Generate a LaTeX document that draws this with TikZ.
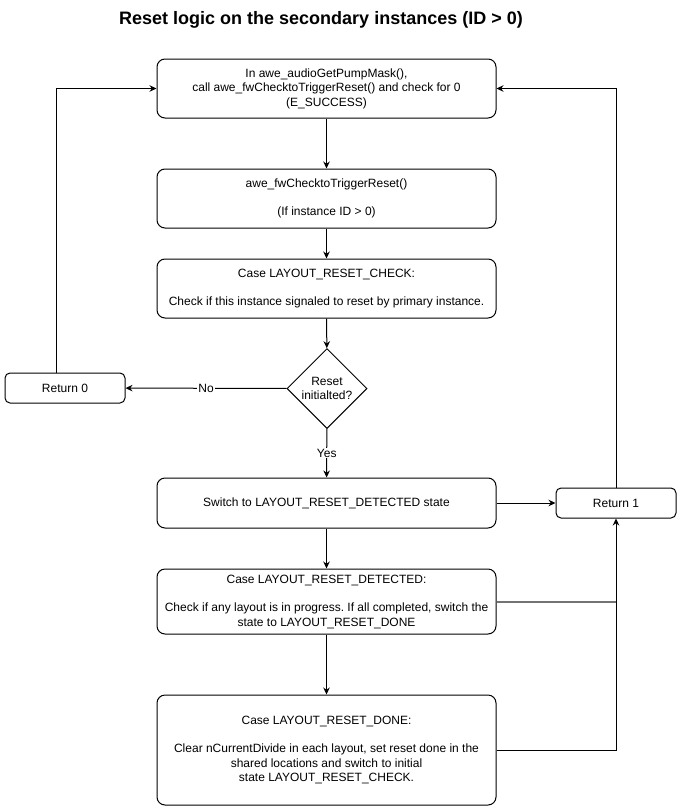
\documentclass[tikz,border=0pt]{standalone}
\usepackage{fontspec}
\setmainfont{Liberation Sans}
\frenchspacing
\usetikzlibrary{shapes.geometric,arrows.meta}
\begin{document}
\begin{tikzpicture}[x=1pt,y=-1pt,
        box/.style={draw,line width=1pt,rounded corners=8pt,align=center,minimum width=339pt,inner sep=2pt,font=\fontsize{12}{14.5}\selectfont},
        retbox/.style={draw,line width=1pt,rounded corners=5pt,minimum width=120pt,minimum height=30pt,font=\fontsize{12}{14}\selectfont},
        decision/.style={draw,line width=1pt,diamond,minimum width=80pt,minimum height=80pt,inner sep=0pt,align=center,font=\fontsize{12}{14}\selectfont},
        arr/.style={line width=1pt,-{Stealth[length=7pt,width=6.5pt]}},
        lbl/.style={fill=white,inner sep=1pt,font=\fontsize{12}{13}\selectfont}]
        \useasboundingbox (0,0) rectangle (682,811);
        \node[font=\bfseries\fontsize{18}{21}\selectfont] (title) at (321,20) {Reset logic on the secondary instances (ID > 0)};
        \node[box,minimum height=59pt] (start) at (326.5,88.5) {In awe\_audioGetPumpMask(),\\call awe\_fwChecktoTriggerReset() and check for 0\\(E\_SUCCESS)};
        \node[box,minimum height=59pt] (trig) at (326.5,198.5) {awe\_fwChecktoTriggerReset()\\[14pt](If instance ID > 0)};
        \node[box,minimum height=59pt] (chk) at (326.5,288.5) {Case LAYOUT\_RESET\_CHECK:\\[14pt]Check if this instance signaled to reset by primary instance.};
        \node[decision] (rst) at (327,388.5) {Reset\\initialted?};
        \node[retbox] (ret0) at (65,388) {Return 0};
        \node[box,minimum height=50pt] (sw) at (326.5,503) {Switch to LAYOUT\_RESET\_DETECTED state};
        \node[retbox] (ret1) at (616,503) {Return 1};
        \node[box,minimum height=65pt] (det) at (326.5,601.5) {Case LAYOUT\_RESET\_DETECTED:\\[14pt]Check if any layout is in progress. If all completed, switch the\\state to LAYOUT\_RESET\_DONE};
        \node[box,minimum height=110pt] (done) at (326.5,750) {Case LAYOUT\_RESET\_DONE:\\[14pt]Clear nCurrentDivide in each layout, set reset done in the\\shared locations and switch to initial\\ state LAYOUT\_RESET\_CHECK.};
        \draw[arr] (start) -- (trig);
        \draw[arr] (trig) -- (chk);
        \draw[arr] (chk) -- (rst);
        \draw[arr] (rst) -- node[lbl] {No} (ret0);
        \draw[arr] (rst) -- node[lbl] {Yes} (sw);
        \draw[arr] ([xshift=-9pt]ret0.north) |- (start.west);
        \draw[arr] (sw) -- (ret1);
        \draw[arr] (ret1) |- (start.east);
        \draw[arr] (sw) -- (det);
        \draw[arr] (det) -- (done);
        \draw[line width=2pt,black!55] (det.east) -- (det.east -| ret1);
        \draw[arr] (done.east) -| (ret1.south);
    \end{tikzpicture}
\end{document}
